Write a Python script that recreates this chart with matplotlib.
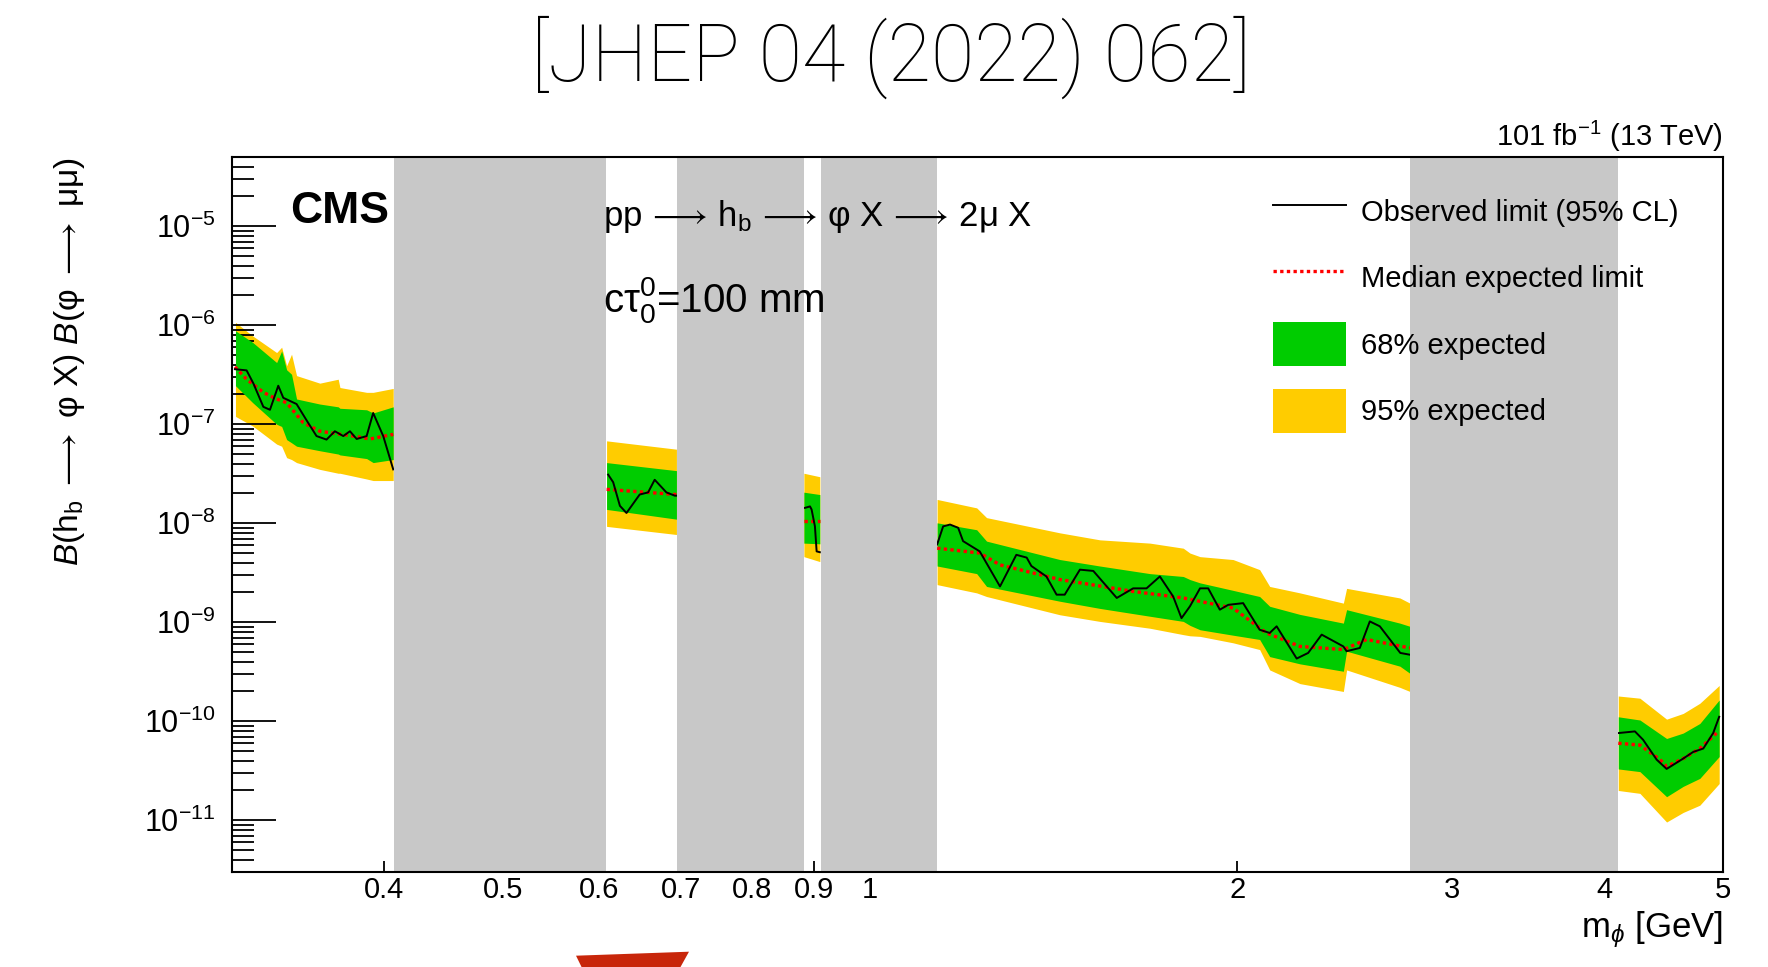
import numpy as np
import matplotlib
matplotlib.use("Agg")
import matplotlib.pyplot as plt
from matplotlib.lines import Line2D
from matplotlib.patches import Patch, Polygon
from matplotlib.ticker import FixedLocator, FixedFormatter, LogLocator, NullFormatter

plt.rcParams["font.family"] = ["Liberation Sans", "DejaVu Sans"]
plt.rcParams["mathtext.fontset"] = "custom"
plt.rcParams["mathtext.rm"] = "Liberation Sans"
plt.rcParams["mathtext.it"] = "Liberation Sans:italic"
plt.rcParams["mathtext.bf"] = "Liberation Sans:bold"
plt.rcParams["mathtext.fallback"] = "stixsans"

YELLOW = "#ffcc00"
GREEN = "#00cc00"
GREY = "#c8c8c8"
ARROW = "$\\longrightarrow$"
ARROW_SP = "$\\,\\longrightarrow\\,$"

# excluded mass windows (resonances), GeV
VETO_LO = [0.407, 0.695, 0.911, 2.77]
VETO_HI = [0.608, 0.883, 1.135, 4.104]

# ---- segment 1: 0.30 - 0.41 GeV ----
S1_X = [0.302, 0.312, 0.3264, 0.3295, 0.3326, 0.3357, 0.3389, 0.3541, 0.3666, 0.3678, 0.3868, 0.3916, 0.4067]
S1_Y95_HI = [1.07e-6, 7.8e-7, 5.3e-7, 6.0e-7, 3.9e-7, 5.1e-7, 3.1e-7, 2.6e-7, 2.85e-7, 2.35e-7, 2.1e-7, 2.1e-7, 2.3e-7]
S1_Y68_HI = [8.8e-7, 6.7e-7, 4.2e-7, 5.5e-7, 3.55e-7, 3.2e-7, 1.8e-7, 1.6e-7, 1.5e-7, 1.45e-7, 1.4e-7, 1.3e-7, 1.5e-7]
S1_Y68_LO = [2.45e-7, 1.65e-7, 1.0e-7, 9.5e-8, 7.0e-8, 6.5e-8, 6.0e-8, 5.4e-8, 5.0e-8, 4.9e-8, 4.5e-8, 4.1e-8, 4.4e-8]
S1_Y95_LO = [1.2e-7, 9.6e-8, 6.3e-8, 6.0e-8, 4.6e-8, 4.4e-8, 4.1e-8, 3.5e-8, 3.2e-8, 3.2e-8, 2.8e-8, 2.7e-8, 2.7e-8]
S1_OBS_X = [0.3017, 0.3084, 0.3123, 0.3183, 0.3223, 0.3274, 0.3305, 0.3389, 0.3453, 0.3519,
            0.3586, 0.3643, 0.3701, 0.3748, 0.3796, 0.3868, 0.3916, 0.3991, 0.4067]
S1_OBS = [3.6e-7, 3.5e-7, 2.6e-7, 1.5e-7, 1.4e-7, 2.45e-7, 1.85e-7, 1.6e-7, 1.1e-7, 7.6e-8,
          7.0e-8, 8.5e-8, 7.6e-8, 8.5e-8, 7.1e-8, 7.6e-8, 1.3e-7, 7.6e-8, 3.5e-8]
S1_EXP_X = [0.3017, 0.3084, 0.3183, 0.3264, 0.3326, 0.3431, 0.3541, 0.3771, 0.3892, 0.4067]
S1_EXP = [3.8e-7, 2.85e-7, 2.1e-7, 1.8e-7, 1.65e-7, 1.04e-7, 8.5e-8, 7.6e-8, 7.1e-8, 7.9e-8]

# ---- segment 2: 0.61 - 0.69 GeV ----
S2_X = [0.6083, 0.694]
S2_Y95_HI = [6.8e-8, 5.6e-8]
S2_Y68_HI = [4.1e-8, 3.4e-8]
S2_Y68_LO = [1.38e-8, 1.1e-8]
S2_Y95_LO = [9.3e-9, 7.7e-9]
S2_OBS_X = [0.6101, 0.6159, 0.6238, 0.6316, 0.6475, 0.6579, 0.6661, 0.6810, 0.6918, 0.694]
S2_OBS = [3.1e-8, 2.6e-8, 1.5e-8, 1.27e-8, 1.95e-8, 2.05e-8, 2.75e-8, 2.05e-8, 1.9e-8, 1.9e-8]
S2_EXP_X = [0.6083, 0.694]
S2_EXP = [2.2e-8, 1.95e-8]

# ---- segment 3: 0.88 - 0.91 GeV ----
S3_X = [0.8827, 0.9097]
S3_Y95_HI = [3.2e-8, 2.95e-8]
S3_Y68_HI = [2.06e-8, 1.95e-8]
S3_Y68_LO = [6.3e-9, 6.2e-9]
S3_Y95_LO = [4.6e-9, 4.1e-9]
S3_OBS_X = [0.8845, 0.8929, 0.8956, 0.9013, 0.9042, 0.9097]
S3_OBS = [1.43e-8, 1.48e-8, 1.38e-8, 9.3e-9, 5.2e-9, 5.1e-9]
S3_EXP_X = [0.8827, 0.9097]
S3_EXP = [1.05e-8, 1.05e-8]

# ---- segment 4: 1.13 - 2.77 GeV ----
S4_X = [1.135, 1.223, 1.246, 1.431, 1.543, 1.696, 1.806, 1.829, 1.864, 1.984, 2.086, 2.126,
        2.251, 2.443, 2.458, 2.718, 2.770]
S4_Y95_HI = [1.74e-8, 1.43e-8, 1.14e-8, 8.0e-9, 6.8e-9, 6.3e-9, 5.6e-9, 5.0e-9, 4.6e-9, 4.3e-9,
             3.4e-9, 2.3e-9, 1.98e-9, 1.56e-9, 2.2e-9, 1.76e-9, 1.56e-9]
S4_Y68_HI = [1.01e-8, 8.6e-9, 6.6e-9, 4.3e-9, 3.7e-9, 3.1e-9, 2.9e-9, 2.7e-9, 2.5e-9, 2.1e-9,
             1.82e-9, 1.45e-9, 1.2e-9, 9.8e-10, 1.34e-9, 9.8e-10, 9.1e-10]
S4_Y68_LO = [3.7e-9, 3.1e-9, 2.3e-9, 1.63e-9, 1.38e-9, 1.15e-9, 1.02e-9, 9.3e-10, 8.4e-10, 7.4e-10,
             6.7e-10, 4.5e-10, 3.8e-10, 3.2e-10, 5.1e-10, 3.6e-10, 3.05e-10]
S4_Y95_LO = [2.4e-9, 1.98e-9, 1.82e-9, 1.19e-9, 1.02e-9, 8.7e-10, 7.5e-10, 7.3e-10, 7.2e-10, 6.2e-10,
             5.3e-10, 3.3e-10, 2.4e-10, 2.0e-10, 3.3e-10, 2.2e-10, 2.0e-10]
S4_OBS_X = [1.135, 1.148, 1.163, 1.181, 1.192, 1.230, 1.278, 1.318, 1.344, 1.356, 1.395, 1.422,
            1.444, 1.486, 1.524, 1.593, 1.643, 1.685, 1.728, 1.772, 1.800, 1.829, 1.864, 1.893,
            1.935, 1.966, 2.022, 2.086, 2.126, 2.154, 2.237, 2.286, 2.345, 2.443, 2.458, 2.520,
            2.568, 2.617, 2.72, 2.77]
S4_OBS = [6.1e-9, 9.3e-9, 9.7e-9, 9.0e-9, 6.6e-9, 5.2e-9, 2.3e-9, 4.8e-9, 4.5e-9, 3.7e-9, 2.9e-9, 1.9e-9,
          1.9e-9, 3.4e-9, 3.3e-9, 1.76e-9, 2.2e-9, 2.2e-9, 2.9e-9, 1.82e-9, 1.1e-9, 1.45e-9, 2.2e-9, 2.2e-9,
          1.34e-9, 1.5e-9, 1.56e-9, 8.4e-10, 7.8e-10, 9.1e-10, 4.3e-10, 4.9e-10, 7.5e-10, 5.7e-10, 5.1e-10,
          5.5e-10, 1.02e-9, 9.1e-10, 4.9e-10, 4.7e-10]
S4_EXP_X = [1.135, 1.230, 1.278, 1.431, 1.643, 1.806, 1.984, 2.113, 2.251, 2.443, 2.553, 2.77]
S4_EXP = [5.6e-9, 5.0e-9, 3.8e-9, 2.7e-9, 2.05e-9, 1.76e-9, 1.39e-9, 7.8e-10, 5.7e-10, 5.3e-10,
          6.7e-10, 5.5e-10]

# ---- segment 5: 4.1 - 5 GeV ----
S5_X = [4.104, 4.275, 4.496, 4.639, 4.787, 4.965]
S5_Y95_HI = [1.8e-10, 1.71e-10, 1.05e-10, 1.2e-10, 1.52e-10, 2.3e-10]
S5_Y68_HI = [1.11e-10, 1.03e-10, 6.7e-11, 7.6e-11, 9.5e-11, 1.64e-10]
S5_Y68_LO = [3.3e-11, 3.1e-11, 1.73e-11, 2.2e-11, 2.65e-11, 4.4e-11]
S5_Y95_LO = [2.0e-11, 1.87e-11, 9.6e-12, 1.2e-11, 1.42e-11, 2.35e-11]
S5_OBS_X = [4.104, 4.235, 4.301, 4.412, 4.496, 4.639, 4.727, 4.818, 4.909, 4.965]
S5_OBS = [7.6e-11, 7.9e-11, 6.5e-11, 4.1e-11, 3.3e-11, 4.2e-11, 4.9e-11, 5.3e-11, 7.6e-11, 1.11e-10]
S5_EXP_X = [4.104, 4.275, 4.440, 4.496, 4.639, 4.787, 4.940]
S5_EXP = [6.0e-11, 5.75e-11, 4.1e-11, 3.5e-11, 4.2e-11, 5.3e-11, 7.6e-11]

segments = [
    (S1_X, S1_Y95_HI, S1_Y68_HI, S1_Y68_LO, S1_Y95_LO, S1_OBS_X, S1_OBS, S1_EXP_X, S1_EXP),
    (S2_X, S2_Y95_HI, S2_Y68_HI, S2_Y68_LO, S2_Y95_LO, S2_OBS_X, S2_OBS, S2_EXP_X, S2_EXP),
    (S3_X, S3_Y95_HI, S3_Y68_HI, S3_Y68_LO, S3_Y95_LO, S3_OBS_X, S3_OBS, S3_EXP_X, S3_EXP),
    (S4_X, S4_Y95_HI, S4_Y68_HI, S4_Y68_LO, S4_Y95_LO, S4_OBS_X, S4_OBS, S4_EXP_X, S4_EXP),
    (S5_X, S5_Y95_HI, S5_Y68_HI, S5_Y68_LO, S5_Y95_LO, S5_OBS_X, S5_OBS, S5_EXP_X, S5_EXP),
]

X_TICKS = [0.3, 0.4, 0.5, 0.6, 0.7, 0.8, 0.9, 2, 3, 4, 5]
X_TICK_LABELS = ["", "0.4", "0.5", "0.6", "0.7", "0.8", "0.9", "2", "3", "4", "5"]

fig = plt.figure(figsize=(17.68, 9.67), dpi=100)
ax = fig.add_axes([0.1312, 0.0982, 0.8433, 0.7394])
ax.set_xscale("log")
ax.set_yscale("log")
ax.set_xlim(0.3, 5)
ax.set_ylim(3e-12, 5e-5)

DOTS = (0, (1.0, 1.0))
for bx, y95hi, y68hi, y68lo, y95lo, ox, oy, ex, ey in segments:
    ax.fill_between(bx, y95lo, y95hi, color=YELLOW, lw=0, zorder=1)
    ax.fill_between(bx, y68lo, y68hi, color=GREEN, lw=0, zorder=2)
    ax.plot(ex, ey, color="red", ls=DOTS, lw=2.4, zorder=3)
    ax.plot(ox, oy, color="black", lw=1.4, zorder=4)

for lo, hi in zip(VETO_LO, VETO_HI):
    ax.axvspan(lo, hi, color=GREY, lw=0, zorder=5)

# axes, ROOT-like inward ticks
for sp in ax.spines.values():
    sp.set_linewidth(1.5)
    sp.set_zorder(8)
ax.xaxis.set_major_locator(FixedLocator([1]))
ax.xaxis.set_major_formatter(FixedFormatter(["1"]))
ax.xaxis.set_minor_locator(FixedLocator(X_TICKS))
ax.xaxis.set_minor_formatter(FixedFormatter(X_TICK_LABELS))
ax.yaxis.set_major_locator(LogLocator(base=10, numticks=30))
ax.yaxis.set_minor_locator(LogLocator(base=10, subs=np.arange(2, 10), numticks=200))
ax.yaxis.set_minor_formatter(NullFormatter())
ax.tick_params(axis="x", which="major", direction="in", length=15, width=1.3, labelsize=21, pad=3)
ax.tick_params(axis="x", which="minor", direction="in", length=8, width=1.3, labelsize=21, pad=3)
ax.tick_params(axis="y", which="major", direction="in", length=32, width=1.3, labelsize=22, pad=12)
ax.tick_params(axis="y", which="minor", direction="in", length=16, width=1.3)

ax.set_xlabel("m$_{\\phi}$ [GeV]", fontsize=25, loc="right")
ax.xaxis.set_label_coords(1.0, -0.052)
ax.set_ylabel(f"$\\mathit{{B}}$(h$_{{\\rm b}}$ {ARROW} φ X) $\\mathit{{B}}$(φ {ARROW} μμ)",
              fontsize=24, loc="top")
ax.yaxis.set_label_coords(-0.097, 1.0)

ax.text(1.0, 1.0154, "101 fb$^{-1}$ (13 TeV)", transform=ax.transAxes, ha="right",
        va="baseline", fontsize=21)
ax.text(0.0389, 0.9077, "CMS", transform=ax.transAxes, ha="left", va="baseline",
        fontsize=32, fontweight="bold", zorder=9)
ax.text(0.2488, 0.903, f"pp{ARROW_SP}h$_{{\\rm b}}${ARROW_SP}φ X{ARROW_SP}2μ X",
        transform=ax.transAxes, ha="left", va="baseline", fontsize=25, zorder=9)
ax.text(0.2488, 0.7836, "cτ$^{0}_{0}$=100 mm", transform=ax.transAxes, ha="left",
        va="baseline", fontsize=29, zorder=9)

handles = [
    Line2D([], [], color="black", lw=1.4),
    Line2D([], [], color="red", ls=DOTS, lw=2.4),
    Patch(facecolor=GREEN, edgecolor="none"),
    Patch(facecolor=YELLOW, edgecolor="none"),
]
labels = ["Observed limit (95% CL)", "Median expected limit", "68% expected", "95% expected"]
leg = ax.legend(handles, labels, loc="upper left", bbox_to_anchor=(0.698, 0.955), frameon=False,
                fontsize=21, handlelength=2.5, handleheight=1.95, handletextpad=0.53,
                labelspacing=0.77, borderpad=0, borderaxespad=0)
leg.set_zorder(9)

fig.text(0.504, 0.941, "[JHEP 04 (2022) 062]", ha="center", va="center", fontsize=57,
         family=["Roboto", "DejaVu Sans"], fontweight="light", color="black")

# red marker shape at the bottom edge
fig.patches.append(Polygon([(0.3258, 0.01169), (0.3897, 0.01582), (0.3846, -0.001), (0.3292, -0.001)],
                           closed=True, transform=fig.transFigure, facecolor="#c8260a",
                           edgecolor="none"))

fig.savefig("out.png", dpi=100)
